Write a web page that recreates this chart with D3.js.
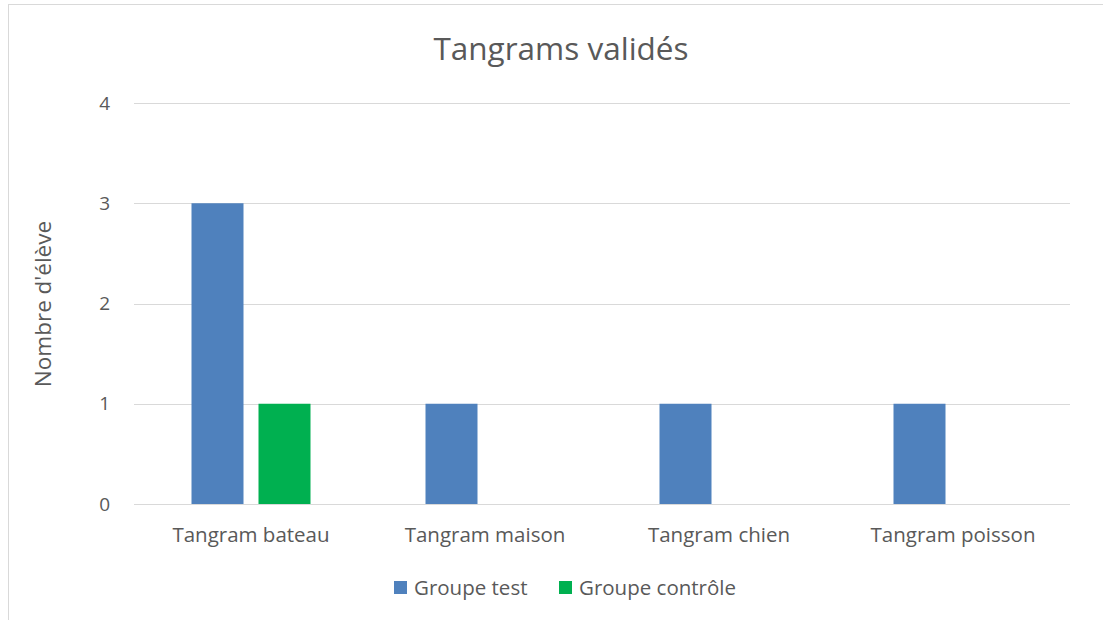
<!DOCTYPE html>
<meta charset="utf-8">
<style>
  body { margin: 0; background: #fff; }
  text { font-family: "Open Sans", sans-serif; fill: #595959; }
  .grid line { stroke: #d9d9d9; stroke-width: 1; }
</style>
<body>
<script src="https://d3js.org/d3.v7.min.js"></script>
<script>
// data
var categories = ["Tangram bateau", "Tangram maison", "Tangram chien", "Tangram poisson"];
var seriesNames = ["Groupe test", "Groupe contrôle"];
var groupeTest = [3, 1, 1, 1];
var groupeControle = [1, 0, 0, 0];
var yTicks = [0, 1, 2, 3, 4];
var colors = ["#4f81bd", "#00b050"];

var W = 1103, H = 620;
var svg = d3.select("body").append("svg").attr("width", W).attr("height", H);

// chart frame
svg.append("rect").attr("x", 8.5).attr("y", 4.5).attr("width", W).attr("height", H)
  .attr("fill", "#fff").attr("stroke", "#d9d9d9");

var x0 = d3.scaleBand().domain(categories).range([134, 1070]);
var x1 = d3.scaleBand().domain(seriesNames)
  .range([57.5, x0.bandwidth() - 57.5]).paddingInner(15 / 67);
var y = d3.scaleLinear().domain([0, 4]).range([504, 103]);

// gridlines
svg.append("g").attr("class", "grid")
  .selectAll("line").data(yTicks).join("line")
  .attr("x1", 134).attr("x2", 1070)
  .attr("y1", d => Math.round(y(d)) + 0.5).attr("y2", d => Math.round(y(d)) + 0.5);

// y tick labels
svg.append("g").selectAll("text").data(yTicks).join("text")
  .attr("x", 110).attr("y", d => y(d)).attr("dy", "0.35em")
  .attr("text-anchor", "end").style("font-size", "19px").text(d => d);

// bars
var rows = categories.map((c, i) => ({ cat: c, vals: [groupeTest[i], groupeControle[i]] }));
var g = svg.append("g").selectAll("g").data(rows).join("g")
  .attr("transform", d => "translate(" + x0(d.cat) + ",0)");
g.selectAll("rect").data(d => d.vals.map((v, j) => ({ s: seriesNames[j], v: v, j: j })))
  .join("rect")
  .attr("x", d => x1(d.s)).attr("width", x1.bandwidth())
  .attr("y", d => y(d.v)).attr("height", d => y(0) - y(d.v))
  .attr("fill", d => colors[d.j]);

// category labels
svg.append("g").selectAll("text").data(categories).join("text")
  .attr("x", d => x0(d) + x0.bandwidth() / 2).attr("y", 542)
  .attr("text-anchor", "middle").style("font-size", "20.5px").text(d => d);

// title
svg.append("text").attr("x", 561).attr("y", 60).attr("text-anchor", "middle")
  .style("font-size", "31.5px").text("Tangrams validés");

// y axis title
svg.append("text").attr("transform", "translate(51,304) rotate(-90)")
  .attr("text-anchor", "middle").style("font-size", "22.5px").text("Nombre d'élève");

// legend
var legendX = [394, 559];
var lg = svg.append("g").selectAll("g").data(seriesNames).join("g")
  .attr("transform", (d, i) => "translate(" + legendX[i] + ",581)");
lg.append("rect").attr("width", 13).attr("height", 13).attr("fill", (d, i) => colors[i]);
lg.append("text").attr("x", 20).attr("y", 6.5).attr("dy", "0.35em")
  .style("font-size", "20.5px").text(d => d);
</script>
</body>
